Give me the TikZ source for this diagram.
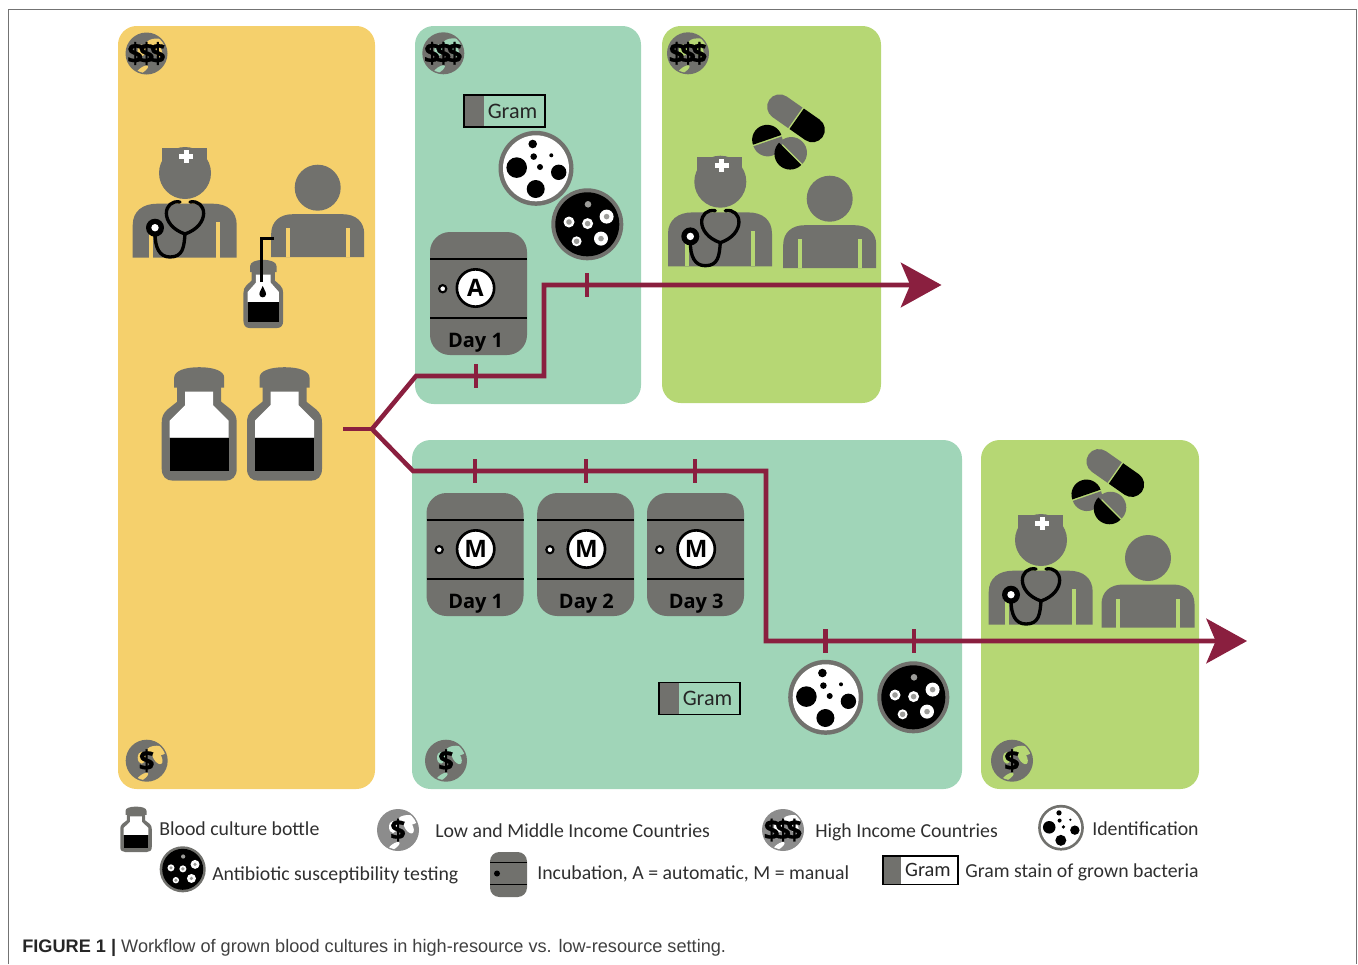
\documentclass[tikz,border=0pt]{standalone}
\usepackage{fontspec}
\setmainfont{Carlito}
\newfontfamily\capfont{Liberation Sans}
\newfontfamily\iconfont{Open Sans}
\newfontfamily\dollarfont[BoldFeatures={FakeBold=0.5}]{Open Sans}
\usetikzlibrary{arrows.meta}
\definecolor{panelyellow}{HTML}{F5D06C}
\definecolor{panelteal}{HTML}{A0D5B8}
\definecolor{panelgreen}{HTML}{B6D774}
\definecolor{icongray}{HTML}{71716D}
\definecolor{flowred}{HTML}{8A1F3F}
\definecolor{legendgray}{HTML}{8C8C8C}
\definecolor{legendtext}{HTML}{2F2F2F}
\tikzset{
  panel/.style n args={3}{fill=#1, inner sep=0pt, outer sep=0pt, rounded corners=14pt,
    minimum width=#2*0.75pt, minimum height=#3*0.75pt},
  legendlabel/.style={anchor=base west, inner sep=0pt, text=legendtext, font=\fontsize{14.85}{16}\selectfont},
  flowline/.style={draw=flowred, line width=3.4pt},
  flowtick/.style={fill=flowred, inner sep=0pt, outer sep=0pt, minimum width=3.2pt, minimum height=18pt},
  flowhead/.style={-{Stealth[length=30.5pt,width=33.5pt,inset=7pt]}},
  pics/nurse/.style={code={
    \fill [icongray] (0,0) circle (26);
    \fill [icongray] (-23,0) rectangle (22,25);
    \fill [white] (-1.2,9.7) rectangle (3.8,23);
    \fill [white] (-5.8,13.8) rectangle (8.4,18.8);
    \fill [icongray] (-52.3,-84.7) -- (-52.3,-52) .. controls (-52.3,-38) and (-42,-30.7) .. (-28,-30.7)
      -- (28,-30.7) .. controls (42,-30.7) and (51.7,-38) .. (51.7,-52) -- (51.7,-84.7) -- cycle;
    \fill [#1] (-35.7,-84.7) rectangle (-31.7,-49);
    \fill [#1] (31,-84.7) rectangle (35,-49);
    \draw [black, line width=2.5pt, line cap=round] (-5,-29) .. controls (-22,-26) and (-26,-52) .. (0,-61)
      .. controls (26,-52) and (22,-26) .. (5,-29);
    \draw [black, line width=2.5pt] (0,-61) .. controls (-1,-74) and (-2,-84) .. (-15,-84)
      .. controls (-26,-84) and (-30,-74) .. (-30,-60);
    \fill [black] (-30,-54.7) circle (9);
    \fill [white] (-30,-54.7) circle (3.7);
  }},
  pics/patient/.style={code={
    \fill [icongray] (0,0) circle (23);
    \fill [icongray] (-46.5,-69.5) -- (-46.5,-46) .. controls (-46.5,-34) and (-38,-26.5) .. (-25,-26.5)
      -- (25,-26.5) .. controls (38,-26.5) and (46.5,-34) .. (46.5,-46) -- (46.5,-69.5) -- cycle;
    \fill [#1] (-32,-69.5) rectangle (-27.7,-40.7);
    \fill [#1] (28,-69.5) rectangle (32,-40.7);
  }},
  pics/bottle/.style={code={
    \fill [icongray] (-25,93) -- (-25,103) .. controls (-25,110) and (-14,113.5) .. (0,113.5)
      .. controls (14,113.5) and (25,110) .. (25,103) -- (25,93) -- cycle;
    \fill [icongray] (-22,96) -- (-22,79) -- (-32,71) .. controls (-36,67) and (-37.5,64) .. (-37.5,58)
      -- (-37.5,12) .. controls (-37.5,4) and (-33,0) .. (-26,0) -- (26,0) .. controls (33,0) and (37.5,4) .. (37.5,12)
      -- (37.5,58) .. controls (37.5,64) and (36,67) .. (32,71) -- (22,79) -- (22,96) -- cycle;
    \fill [white] (-14,89) -- (-14,75.5) -- (-29.5,60) -- (-29.5,43) -- (29.5,43) -- (29.5,60) -- (14,75.5) -- (14,89) -- cycle;
    \fill [black] (-29.5,10) rectangle (29.5,43);
  }},
  pics/incubator/.style n args={3}{code={
    \fill [icongray, rounded corners=15pt] (-48.5,-61.5) rectangle (48.5,61.5);
    \draw [black, line width=2pt] (-48.5,34.5) -- (48.5,34.5);
    \draw [black, line width=2pt] (-48.5,-24.5) -- (48.5,-24.5);
    \draw [black, fill=white, line width=1.6pt] (-35.8,4.8) circle (3.6);
    \node (-dial) [circle, draw=black, fill=white, line width=2pt, minimum size=28pt, inner sep=0pt,
      font=\iconfont\fontsize{18}{18}\selectfont\bfseries] at (#3,5.5) {#1};
    \node (-day) [inner sep=0pt, font=\iconfont\fontsize{15}{16}\selectfont\bfseries] at (#3,-49) {#2};
  }},
  pics/incubatorsmall/.style={code={
    \fill [icongray, rounded corners=7pt] (-18.5,-22.5) rectangle (18.5,22.5);
    \draw [black, line width=1.4pt] (-18.5,12) -- (18.5,12);
    \draw [black, line width=1.4pt] (-18.5,-10) -- (18.5,-10);
    \fill [black] (-11.5,1) circle (3);
  }},
  pics/idplate/.style={code={
    \fill [#1] (0,0) circle (37.5);
    \fill [white] (0,0) circle (33);
    \foreach \sx/\sy/\sr in {-3.3/24.3/4.3, -2.3/11.7/3.3, 15.3/13/2, 4/1.3/3, -19.3/.7/10.3, 22.7/-4/7.7, -.3/-20.7/9}
      \fill [black] (\sx,\sy) circle (\sr);
  }},
  pics/astplate/.style={code={
    \fill [#1] (0,0) circle (36);
    \fill [black] (0,0) circle (32);
    \fill [icongray!70] (.7,20) circle (3.3);
    \foreach \sx/\sy/\sr in {-18.3/2.3/5.5, .3/.7/5.5, 19.3/7.7/7, -10.7/-17/5, 13.7/-14.3/7}{
      \fill [white] (\sx,\sy) circle (\sr);
      \fill [icongray!70] (\sx,\sy) circle (2.8);
    }
  }},
  pics/gramstain/.style n args={2}{code={
    \fill [#1] (-40.5,-16) rectangle (40.5,16);
    \fill [icongray] (-40.5,-16) rectangle (-21,16);
    \draw [black, line width=1.1pt] (-40.5,-16) rectangle (40.5,16);
    \node (-txt) [inner sep=0pt, text=black!85, font=\fontsize{#2}{17}\selectfont] at (8,0) {Gram};
  }},
  pics/moneyglobe/.style n args={3}{code={
    \fill [#3] (0,0) circle (21);
    \begin{scope}
      \clip (0,0) circle (19.5);
      \fill [#1] (10,10) ellipse (10 and 5);
      \fill [#1, rotate=30] (11,-2) ellipse (4 and 8);
      \fill [#1] (-5,3) ellipse (4 and 6);
      \fill [#1, rotate=35] (-13,-11) ellipse (7 and 2.5);
    \end{scope}
    \node (-sym) [inner sep=0pt, text=black, font=\dollarfont\fontsize{21}{21}\selectfont\bfseries] at (0,0) {#2};
  }},
  pics/pills/.style={code={
    \begin{scope}[shift={(9.3,15)}, rotate=-35]
      \fill [icongray] (-.8,-12.5) -- (-20,-12.5) arc (270:90:12.5) -- (-.8,12.5) -- cycle;
      \fill [black] (.8,-12.5) -- (20,-12.5) arc (-90:90:12.5) -- (.8,12.5) -- cycle;
    \end{scope}
    \begin{scope}[shift={(-19.3,-7.3)}, rotate=19]
      \fill [black] (-15,.8) arc (180:0:15) -- cycle;
      \fill [icongray] (-15,-.8) arc (180:360:15) -- cycle;
    \end{scope}
    \begin{scope}[shift={(4,-20)}, rotate=-45]
      \fill [icongray] (-15.7,.8) arc (180:0:15.7) -- cycle;
      \fill [black] (-15.7,-.8) arc (180:360:15.7) -- cycle;
    \end{scope}
  }}
}
\newcommand{\hisym}{\$\kern-3.5pt\$\kern-3.5pt\$}
\begin{document}
\begin{tikzpicture}[x=0.75pt,y=0.75pt]
  \useasboundingbox (0,0) rectangle (1358,-964);
  \draw [black!55, line width=0.7pt] (8,-964) -- (8,-9) -- (1356,-9) -- (1356,-964);

  \node (panelsample) [panel={panelyellow}{257}{763}] at (246.5,-407.5) {};
  \node (panelautolab) [panel={panelteal}{226}{378}] at (528,-215) {};
  \node (panelautotreat) [panel={panelgreen}{219}{377}] at (771.5,-214.5) {};
  \node (panelmanlab) [panel={panelteal}{550}{349}] at (687,-614.5) {};
  \node (panelmantreat) [panel={panelgreen}{218}{349}] at (1090,-614.5) {};

  \pic (globe1) at (146.5,-53.5) {moneyglobe={panelyellow}{\hisym}{icongray}};
  \pic (globe2) at (443.3,-53.3) {moneyglobe={panelteal}{\hisym}{icongray}};
  \pic (globe3) at (688,-53.3) {moneyglobe={panelgreen}{\hisym}{icongray}};
  \pic (globe4) at (146.7,-760.7) {moneyglobe={panelyellow}{\$}{icongray}};
  \pic (globe5) at (446,-760.7) {moneyglobe={panelteal}{\$}{icongray}};
  \pic (globe6) at (1012,-760.7) {moneyglobe={panelgreen}{\$}{icongray}};

  \pic at (185,-173) {nurse=panelyellow};
  \pic at (317.7,-187.7) {patient=panelyellow};
  \pic [xscale=0.53, yscale=0.6] at (263.3,-328) {bottle};
  \draw [black, line width=2.2pt] (261.7,-282) -- (261.7,-238.5) -- (273.5,-238.5);
  \fill [black] (262.7,-294) circle (3.4);
  \fill [black] (259.6,-292.5) -- (262.7,-286) -- (265.8,-292.5) -- cycle;
  \pic at (199.2,-480.7) {bottle};
  \pic at (284.5,-480.7) {bottle};

  \pic (gram1) at (504.5,-111) {gramstain={panelteal}{16.6}};
  \pic at (536,-168.3) {idplate=icongray};
  \pic at (587.3,-224.3) {astplate=icongray};
  \pic (incA) at (478.5,-293.5) {incubator={A}{Day 1}{-3}};

  \pic at (720.3,-181.7) {nurse=panelgreen};
  \pic at (829.7,-198.7) {patient=panelgreen};
  \pic at (786.7,-133.3) {pills};

  \pic (incM1) at (475,-554.5) {incubator={M}{Day 1}{.7}};
  \pic (incM2) at (585.7,-554.5) {incubator={M}{Day 2}{.7}};
  \pic (incM3) at (695.5,-554.5) {incubator={M}{Day 3}{.7}};
  \pic (gram2) at (699.5,-698.5) {gramstain={panelteal}{16.6}};
  \pic at (825.7,-697.3) {idplate=icongray};
  \pic at (913.3,-697.3) {astplate=icongray};

  \pic at (1041,-540) {nurse=panelgreen};
  \pic at (1148,-558) {patient=panelgreen};
  \pic at (1106,-488) {pills};

  \coordinate (flowstart) at (343,-429);
  \coordinate (fork) at (372,-429);
  \coordinate (autolow) at (416,-376);
  \coordinate (autobend) at (544,-376);
  \coordinate (autohigh) at (544,-285);
  \coordinate (autotip) at (941.5,-285);
  \coordinate (manhigh) at (413,-471);
  \coordinate (manbend) at (766,-471);
  \coordinate (manlow) at (766,-641);
  \coordinate (mantip) at (1247,-641);
  \draw [flowline] (flowstart) -- (fork);
  \draw [flowline, flowhead] (fork) -- (autolow) -- (autobend) -- (autohigh) -- (autotip);
  \draw [flowline, flowhead] (fork) -- (manhigh) -- (manbend) -- (manlow) -- (mantip);
  \node (tick1) [flowtick] at (476,-376) {};
  \node (tick2) [flowtick] at (587,-285) {};
  \node (tick3) [flowtick] at (475,-471) {};
  \node (tick4) [flowtick] at (586,-471) {};
  \node (tick5) [flowtick] at (695,-471) {};
  \node (tick6) [flowtick] at (825.6,-641) {};
  \node (tick7) [flowtick] at (914,-641) {};

  \pic [xscale=0.42, yscale=0.4] at (136,-852) {bottle};
  \node (lblbottle) [legendlabel] at (159,-835) {Blood culture bottle};
  \pic (globe7) at (398,-830) {moneyglobe={white}{\$}{legendgray}};
  \node (lbllow) [legendlabel] at (435,-837) {Low and Middle Income Countries};
  \pic (globe8) at (783,-830) {moneyglobe={white}{\hisym}{legendgray}};
  \node (lblhigh) [legendlabel] at (815,-837) {High Income Countries};
  \pic [scale=0.61] at (1061,-827.7) {idplate=icongray};
  \node (lblid) [legendlabel] at (1092,-835.5) {Identification};
  \pic [scale=0.64] at (182.7,-869.3) {astplate=icongray};
  \node (lblast) [legendlabel] at (212,-880) {Antibiotic susceptibility testing};
  \pic at (508.5,-874.5) {incubatorsmall};
  \node (lblinc) [legendlabel] at (537,-879) {Incubation, A = automatic, M = manual};
  \pic (gram3) [xscale=0.93, yscale=0.9] at (920.5,-870.2) {gramstain={white}{15.3}};
  \node (lblgram) [legendlabel] at (965,-877.5) {Gram stain of grown bacteria};

  \node (caption) [anchor=base west, inner sep=0pt, text=black!75, font=\capfont\fontsize{13.62}{16}\selectfont]
    at (22,-952) {\textcolor{black!85}{\bfseries FIGURE 1 |} Workflow of grown blood cultures in high-resource vs. low-resource setting.};
\end{tikzpicture}
\end{document}
